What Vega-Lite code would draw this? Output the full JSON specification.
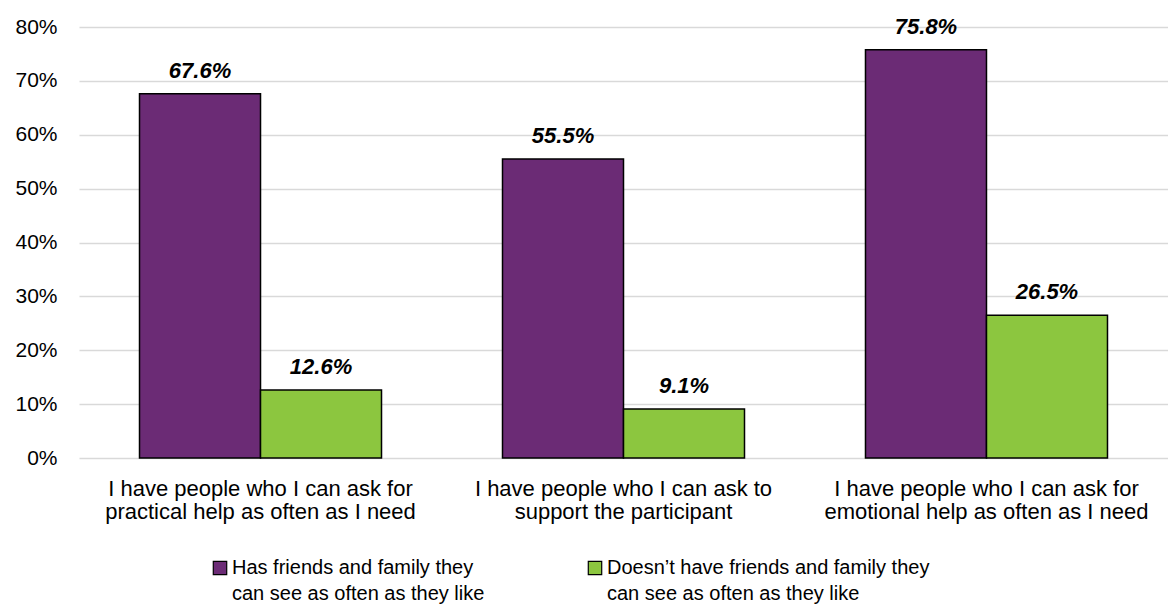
{
  "$schema": "https://vega.github.io/schema/vega-lite/v6.json",
  "width": 1089,
  "height": 431,
  "autosize": {"type": "none"},
  "padding": {"left": 79, "top": 27, "right": 0, "bottom": 146},
  "background": "white",
  "config": {
    "view": {"stroke": null},
    "font": "Liberation Sans",
    "text": {"font": "Liberation Sans"}
  },
  "data": {
    "values": [
      {"question": "I have people who I can ask for|practical help as often as I need", "group": "Has friends and family they can see as often as they like", "value": 0.676},
      {"question": "I have people who I can ask for|practical help as often as I need", "group": "Doesn’t have friends and family they can see as often as they like", "value": 0.126},
      {"question": "I have people who I can ask to|support the participant", "group": "Has friends and family they can see as often as they like", "value": 0.555},
      {"question": "I have people who I can ask to|support the participant", "group": "Doesn’t have friends and family they can see as often as they like", "value": 0.091},
      {"question": "I have people who I can ask for|emotional help as often as I  need", "group": "Has friends and family they can see as often as they like", "value": 0.758},
      {"question": "I have people who I can ask for|emotional help as often as I  need", "group": "Doesn’t have friends and family they can see as often as they like", "value": 0.265}
    ]
  },
  "encoding": {
    "x": {
      "field": "question",
      "type": "nominal",
      "sort": null,
      "scale": {"paddingInner": 0.3333, "paddingOuter": 0.1667},
      "axis": {
        "title": null,
        "labelAngle": 0,
        "labelExpr": "split(datum.label, '|')",
        "labelFontSize": 22,
        "labelColor": "#000000",
        "labelLineHeight": 23,
        "labelPadding": 20,
        "labelLimit": 420,
        "ticks": false,
        "domain": false,
        "labelBaseline": "top"
      }
    },
    "xOffset": {
      "field": "group",
      "type": "nominal",
      "sort": null
    },
    "y": {
      "field": "value",
      "type": "quantitative",
      "scale": {"domain": [0, 0.8], "nice": false},
      "axis": {
        "title": null,
        "format": ".0%",
        "values": [0, 0.1, 0.2, 0.3, 0.4, 0.5, 0.6, 0.7, 0.8],
        "labelFontSize": 21,
        "labelColor": "#000000",
        "labelPadding": 22,
        "ticks": false,
        "domain": false,
        "grid": true,
        "gridColor": "#d9d9d9",
        "gridWidth": 1.5
      }
    }
  },
  "layer": [
    {
      "mark": {"type": "bar", "stroke": "#000000", "strokeWidth": 1.5},
      "encoding": {
        "color": {
          "field": "group",
          "type": "nominal",
          "sort": null,
          "scale": {"range": ["#6B2B75", "#8CC63F"]},
          "legend": {
            "title": null,
            "orient": "none",
            "direction": "horizontal",
            "legendX": 131,
            "legendY": 531,
            "symbolType": "square",
            "symbolSize": 180,
            "symbolStrokeColor": "#000000",
            "symbolStrokeWidth": 1.2,
            "symbolOpacity": 1,
            "labelFontSize": 20,
            "labelColor": "#000000",
            "labelLimit": 400,
            "labelOffset": 2,
            "labelBaseline": "top",
            "columnPadding": 100,
            "encode": {"labels": {"update": {"dy": {"value": -10}, "lineHeight": {"value": 26}}}},
            "labelExpr": "datum.label == 'Has friends and family they can see as often as they like' ? ['Has friends and family they', 'can see as often as they like'] : ['Doesn’t have friends and family they', 'can see as often as they like']"
          }
        }
      }
    },
    {
      "mark": {"type": "text", "fontWeight": "bold", "fontStyle": "italic", "fontSize": 22, "baseline": "alphabetic", "dy": -16, "color": "#000000"},
      "encoding": {
        "text": {"field": "value", "type": "quantitative", "format": ".1%"}
      }
    }
  ]
}
